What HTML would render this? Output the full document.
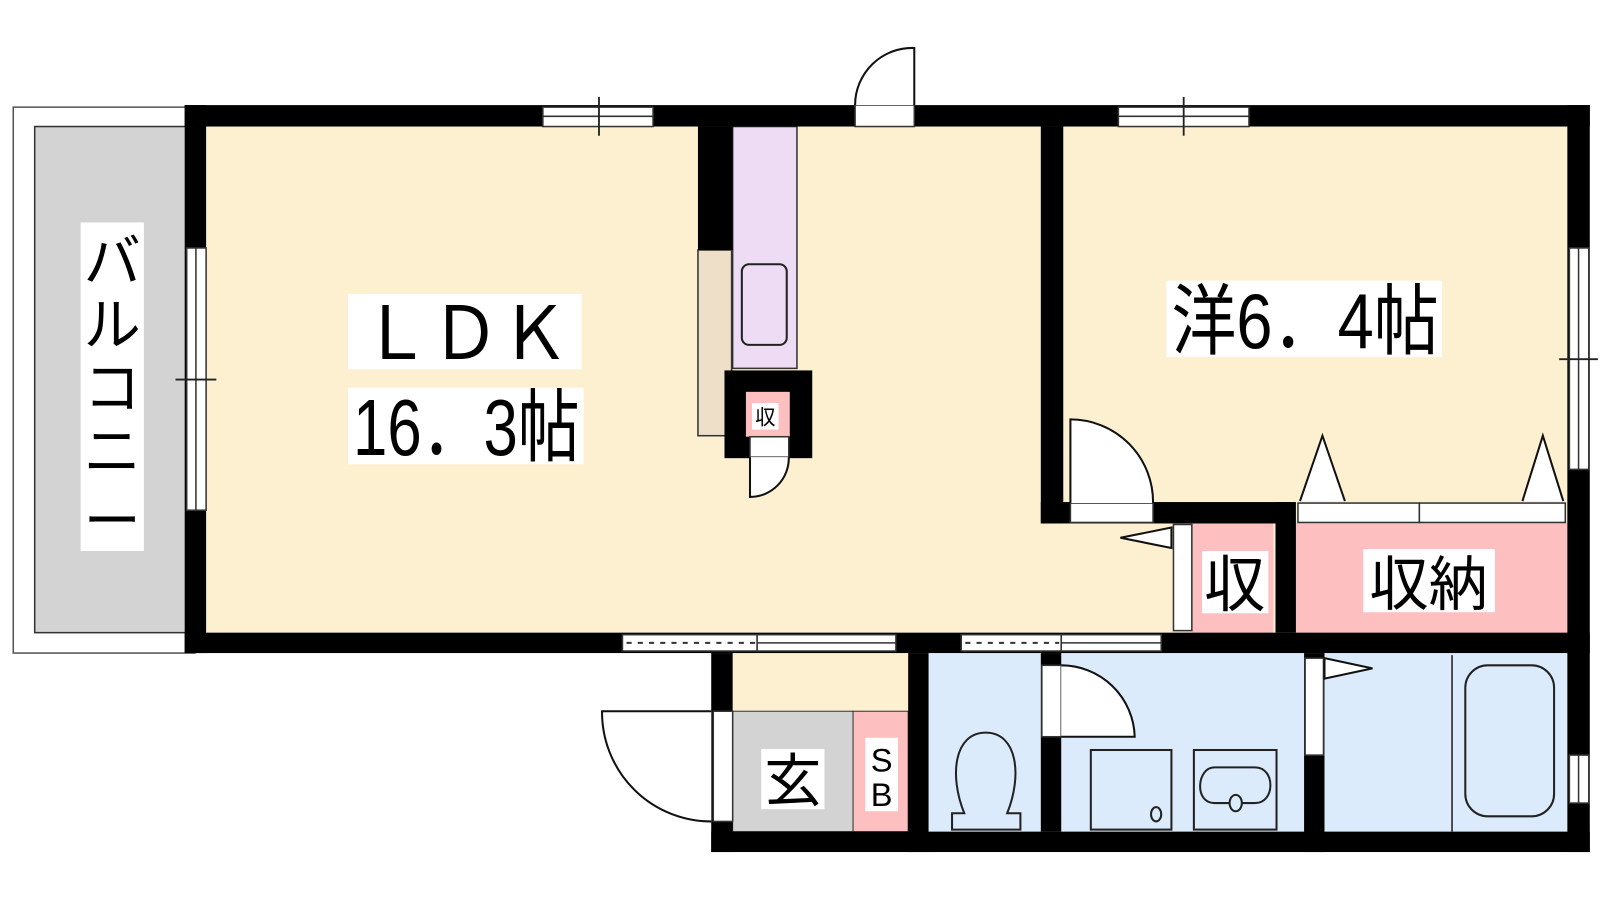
<!DOCTYPE html>
<html><head><meta charset="utf-8"><style>
html,body{margin:0;padding:0;background:#fff;}
svg{display:block;}
text{font-family:"Liberation Sans","Noto Sans CJK JP",sans-serif;fill:#000;}
</style></head><body>
<svg width="1600" height="900" viewBox="0 0 1568 882" xmlns="http://www.w3.org/2000/svg">
<rect x="13" y="105" width="178" height="535" fill="#fff" stroke="#555" stroke-width="1.5"/>
<rect x="34" y="124" width="150" height="496" fill="#d3d3d3" stroke="#333" stroke-width="1.5"/>
<rect x="202" y="124" width="1334" height="496" fill="#fdf0d0"/>
<rect x="718" y="124" width="63" height="237" fill="#eedcf5" stroke="#333" stroke-width="1.5"/>
<rect x="684" y="245" width="33" height="182" fill="#eedfc8" stroke="#333" stroke-width="1.5"/>
<rect x="727" y="259" width="44" height="79" rx="7" fill="none" stroke="#222" stroke-width="2"/>
<rect x="1168" y="512" width="80" height="108" fill="#fdbfbf"/>
<rect x="1270" y="512" width="266" height="108" fill="#fdbfbf"/>
<rect x="718" y="640" width="172" height="57" fill="#fdf0d0"/>
<rect x="718" y="697" width="118" height="118" fill="#d3d3d3" stroke="#333" stroke-width="1"/>
<rect x="836" y="697" width="54" height="118" fill="#fdbfbf" stroke="#333" stroke-width="1"/>
<rect x="910" y="640" width="626" height="175" fill="#dcebfc"/>
<g fill="#000">
<rect x="181" y="103" width="1377" height="21"/>
<rect x="181" y="103" width="21" height="537"/>
<rect x="181" y="620" width="1377" height="20"/>
<rect x="1536" y="103" width="22" height="732"/>
<rect x="697" y="640" width="21" height="195"/>
<rect x="697" y="815" width="861" height="20"/>
<rect x="684" y="124" width="34" height="121"/>
<rect x="710" y="363" width="86" height="86"/>
<rect x="1020" y="124" width="22" height="389"/>
<rect x="1020" y="492" width="244" height="21"/>
<rect x="1250" y="492" width="20" height="128"/>
<rect x="890" y="640" width="20" height="195"/>
<rect x="1020" y="640" width="20" height="175"/>
<rect x="1278" y="640" width="20" height="195"/>
</g>
<rect x="731" y="384" width="43" height="44" fill="#fdbfbf"/>
<g fill="#fff" stroke="#333" stroke-width="1.5">
<rect x="532" y="105" width="108" height="19"/><line x1="532" y1="114" x2="640" y2="114"/>
<rect x="1096" y="105" width="128" height="19"/><line x1="1096" y1="114" x2="1224" y2="114"/>
<rect x="183" y="243" width="19" height="257"/><line x1="192" y1="243" x2="192" y2="500"/>
<rect x="1538" y="243" width="19" height="217"/><line x1="1547" y1="243" x2="1547" y2="460"/>
<rect x="1538" y="740" width="19" height="47"/><line x1="1547" y1="740" x2="1547" y2="787"/>
<rect x="610" y="622" width="132" height="16"/><rect x="742" y="622" width="136" height="16"/><line x1="742" y1="630" x2="878" y2="630"/>
<rect x="942" y="622" width="98" height="16"/><rect x="1040" y="622" width="98" height="16"/><line x1="1040" y1="630" x2="1138" y2="630"/>
<rect x="838" y="103" width="58" height="21"/>
<rect x="735" y="428" width="38" height="20"/>
<rect x="1049" y="493" width="81" height="19"/>
<rect x="1272" y="493" width="119" height="19"/><rect x="1391" y="493" width="143" height="19"/>
<rect x="1150" y="514" width="18" height="104"/>
<rect x="699" y="697" width="19" height="108"/>
<rect x="1021" y="652" width="19" height="70"/>
<rect x="1279" y="645" width="18" height="95"/>
</g>
<g stroke="#333" stroke-width="2" stroke-dasharray="5,6"><line x1="614" y1="630" x2="740" y2="630"/><line x1="946" y1="630" x2="1038" y2="630"/></g>
<g stroke="#222" stroke-width="1.8">
<line x1="587" y1="95" x2="587" y2="133"/><line x1="1160" y1="95" x2="1160" y2="133"/>
<line x1="172" y1="372" x2="212" y2="372"/><line x1="1528" y1="352" x2="1566" y2="352"/>
</g>
<g fill="#fff" stroke="#111" stroke-width="2">
<path d="M896 103 L896 47 A56 56 0 0 0 838 103"/>
<path d="M773 448 A38 38 0 0 1 735 487 L735 448"/>
<path d="M1049 493 L1049 411 A81 81 0 0 1 1130 493"/>
<path d="M697 697 L590 697 A107 107 0 0 0 697 805"/>
<path d="M1040 652 A72 72 0 0 1 1112 722 L1040 722"/>
<path d="M1148 517 L1098 527 L1148 537Z"/>
<path d="M1298 645 L1345 655 L1298 665Z"/>
<path d="M1274 491 L1296 427 L1318 491"/>
<path d="M1492 491 L1512 427 L1532 491"/>
</g>
<g fill="none" stroke="#222" stroke-width="2">
<path d="M945 797 C930 760 935 718 966 718 C997 718 1002 760 987 797 L1000 797 L1000 813 L933 813 L933 797 Z" fill="#dcebfc"/>
<rect x="1069" y="735" width="79" height="78"/><ellipse cx="1133" cy="798" rx="5" ry="7"/>
<rect x="1170" y="735" width="81" height="78"/>
<path d="M1190 787 C1170 787 1173 752 1190 752 L1230 752 C1250 752 1250 787 1230 787 Z"/>
<ellipse cx="1211" cy="787" rx="6" ry="8" fill="#dcebfc"/>
<line x1="1423" y1="642" x2="1423" y2="815" stroke-width="1.5"/>
<rect x="1436" y="652" width="87" height="148" rx="22"/>
</g>
<g fill="#fff">
<rect x="79" y="218" width="62" height="322"/>
<rect x="341" y="288" width="229" height="74"/>
<rect x="341" y="380" width="231" height="75"/>
<rect x="1143" y="275" width="270" height="75"/>
<rect x="737" y="395" width="26" height="26"/>
<rect x="1178" y="540" width="65" height="61"/>
<rect x="1336" y="538" width="129" height="62"/>
<rect x="746" y="734" width="62" height="59"/>
<rect x="848" y="723" width="32" height="72"/>
</g>
<g font-size="56" text-anchor="middle">
<text x="110" y="276">バ</text><text x="110" y="338">ル</text><text x="110" y="400">コ</text><text x="110" y="462">ニ</text><text x="110" y="530">ー</text>
</g>
<text x="354" y="352" font-size="72" textLength="204" lengthAdjust="spacingAndGlyphs">ＬＤＫ</text>
<text x="346" y="446" font-size="78" textLength="222" lengthAdjust="spacingAndGlyphs">16．3帖</text>
<text x="1148" y="341" font-size="76" textLength="262" lengthAdjust="spacingAndGlyphs">洋6．4帖</text>
<text x="750" y="416" font-size="20" text-anchor="middle">収</text>
<text x="1210" y="594" font-size="60" text-anchor="middle">収</text>
<text x="1400" y="593" font-size="58" text-anchor="middle">収納</text>
<text x="777" y="785" font-size="56" text-anchor="middle">玄</text>
<text x="864" y="756" font-size="32" text-anchor="middle">S</text>
<text x="864" y="790" font-size="32" text-anchor="middle">B</text>
</svg>
</body></html>
